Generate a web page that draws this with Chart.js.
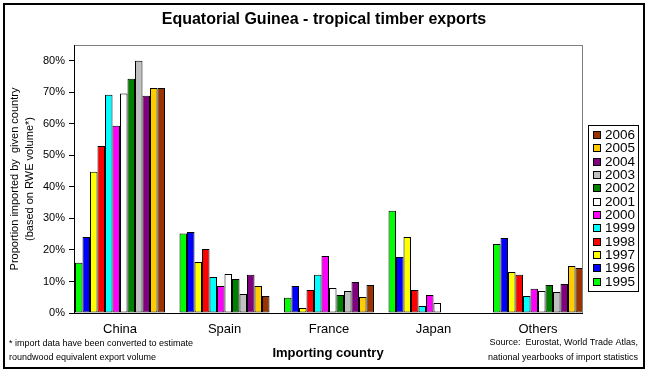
<!DOCTYPE html>
<html>
<head>
<meta charset="utf-8">
<script src="https://cdn.jsdelivr.net/npm/chart.js@4.4.1/dist/chart.umd.min.js"></script>
<style>
html,body{margin:0;padding:0;background:#fff;}
#wrap{position:relative;width:650px;height:374px;}
</style>
</head>
<body>
<div id="wrap"><canvas id="c" width="650" height="374"></canvas></div>
<script>
const categories = ['China', 'Spain', 'France', 'Japan', 'Others'];
const years = ['1995','1996','1997','1998','1999','2000','2001','2002','2003','2004','2005','2006'];
// values per year, in the order of categories (percent)
const v1995 = [15.9, 25.2, 4.8, 32.4, 21.9];
const v1996 = [24.1, 25.7, 8.6, 17.8, 23.8];
const v1997 = [44.8, 16.2, 1.6, 24.1, 13.0];
const v1998 = [53.0, 20.3, 7.3, 7.3, 12.1];
const v1999 = [69.2, 11.4, 12.1, 2.2, 5.4];
const v2000 = [59.4, 8.6, 18.1, 5.7, 7.7];
const v2001 = [69.6, 12.4, 7.9, 3.2, 7.0];
const v2002 = [74.3, 10.8, 5.7, null, 8.9];
const v2003 = [80.0, 6.0, 7.0, null, 6.7];
const v2004 = [68.9, 12.1, 9.8, null, 9.2];
const v2005 = [71.4, 8.6, 5.1, null, 14.9];
const v2006 = [71.4, 5.4, 8.9, null, 14.3];
const seriesValues = [v1995, v1996, v1997, v1998, v1999, v2000, v2001, v2002, v2003, v2004, v2005, v2006];
const seriesColors = ['#00FF00','#0000FF','#FFFF00','#FF0000','#00FFFF','#FF00FF','#FFFFFF','#008000','#C0C0C0','#800080','#FFCC00','#993300'];
const yTickValues = [0, 10, 20, 30, 40, 50, 60, 70, 80];
const chartTitle = 'Equatorial Guinea - tropical timber exports';
const yTitle = ['Proportion imported by  given country', '(based on RWE volume*)'];
const xTitle = 'Importing country';
const noteLeft = ['* import data have been converted to estimate', 'roundwood equivalent export volume'];
const noteRight = ['Source:  Eurostat, World Trade Atlas,', 'national yearbooks of import statistics'];

const FONT = '"Liberation Sans", Arial, sans-serif';
Chart.defaults.font.family = FONT;
Chart.defaults.color = '#000';

const decor = {
  id: 'decor',
  beforeDraw(chart) {
    const ctx = chart.ctx, a = chart.chartArea;
    ctx.save();
    ctx.fillStyle = '#fff';
    ctx.fillRect(0, 0, chart.width, chart.height);
    ctx.strokeStyle = '#808080';
    ctx.lineWidth = 1;
    ctx.strokeRect(Math.round(a.left) + 0.5, Math.round(a.top) + 0.5, Math.round(a.right - a.left), Math.round(a.bottom - a.top));
    ctx.restore();
  },
  afterDraw(chart) {
    const ctx = chart.ctx;
    ctx.save();
    // outer frame
    ctx.strokeStyle = '#000';
    ctx.lineWidth = 2;
    ctx.strokeRect(4, 4, 640, 364);
    // title
    ctx.fillStyle = '#000';
    ctx.font = 'bold 16px ' + FONT;
    ctx.textAlign = 'center';
    ctx.textBaseline = 'middle';
    ctx.fillText(chartTitle, 324, 20);
    // legend
    ctx.lineWidth = 1;
    ctx.strokeRect(588.5, 125.5, 50, 166);
    const ds = chart.data.datasets.slice().reverse();
    ctx.font = '13.5px ' + FONT;
    ctx.textAlign = 'left';
    ds.forEach((d, i) => {
      const cy = Math.round(135 + i * 13.33);
      ctx.fillStyle = d.backgroundColor;
      ctx.fillRect(593.5, cy - 3.5, 7, 7);
      ctx.strokeStyle = '#000';
      ctx.strokeRect(593.5, cy - 3.5, 7, 7);
      ctx.fillStyle = '#000';
      ctx.fillText(d.label, 605, cy + 0.5);
    });
    // footnotes
    ctx.font = '9px ' + FONT;
    ctx.textAlign = 'left';
    ctx.fillText(noteLeft[0], 9, 344);
    ctx.fillText(noteLeft[1], 9, 358);
    ctx.textAlign = 'right';
    ctx.fillText(noteRight[0], 638, 343);
    ctx.fillText(noteRight[1], 638, 358);
    ctx.restore();
  }
};

const datasets = years.map((yr, i) => ({
  label: yr,
  data: seriesValues[i].map((v, j) => ({ x: j, y: v })),
  backgroundColor: seriesColors[i],
  borderColor: '#000',
  borderWidth: 1,
  borderSkipped: false,
  barPercentage: 1,
  categoryPercentage: 0.861
}));

new Chart(document.getElementById('c'), {
  type: 'bar',
  data: { datasets },
  plugins: [decor],
  options: {
    responsive: false,
    devicePixelRatio: 1,
    animation: false,
    layout: { padding: { left: 5, right: 68, top: 45, bottom: 0 } },
    plugins: {
      legend: { display: false },
      tooltip: { enabled: false },
      title: { display: false }
    },
    scales: {
      x: {
        type: 'linear',
        offset: false,
        min: -0.4402,
        max: 4.421,
        afterBuildTicks: s => { s.ticks = categories.map((c, i) => ({ value: i })); },
        ticks: {
          callback: v => categories[v],
          font: { size: 13 },
          color: '#000',
          padding: 9,
          maxRotation: 0,
          autoSkip: false
        },
        grid: { display: false, drawTicks: false },
        border: { display: true, color: '#000', width: 1 },
        title: {
          display: true,
          text: xTitle,
          font: { size: 13, weight: 'bold' },
          color: '#000',
          padding: { top: 0, bottom: 13 }
        },
        afterFit: s => { s.height = 61; }
      },
      y: {
        type: 'linear',
        min: 0,
        max: 85,
        afterBuildTicks: s => { s.ticks = yTickValues.map(v => ({ value: v })); },
        ticks: {
          callback: v => v + '%',
          font: { size: 11 },
          color: '#000',
          padding: 4
        },
        grid: { display: true, drawOnChartArea: false, drawTicks: true, tickLength: 5, color: '#000' },
        border: { display: true, color: '#000', width: 1 },
        title: {
          display: true,
          text: yTitle,
          font: { size: 11, lineHeight: 15 / 11 },
          color: '#000',
          padding: { top: 2.5, bottom: 0 }
        },
        afterFit: s => { s.width = 69; }
      }
    }
  }
});
</script>
</body>
</html>
